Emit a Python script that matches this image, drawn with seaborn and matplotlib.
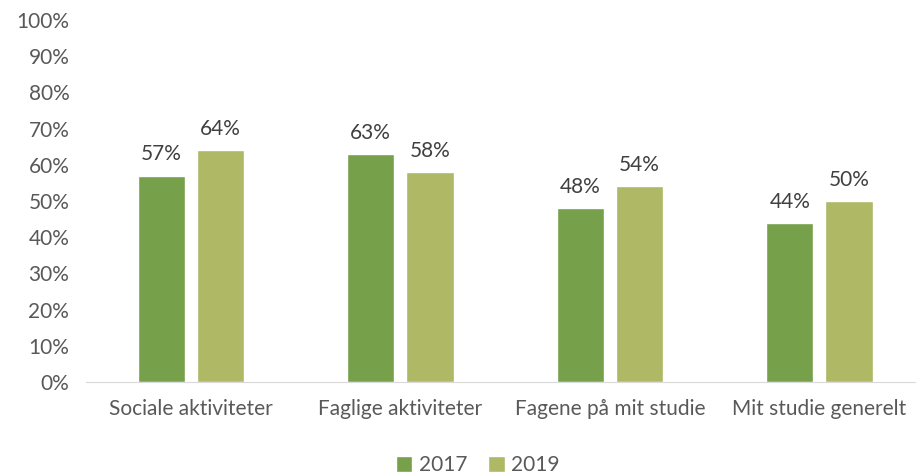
import pandas as pd
import matplotlib.pyplot as plt
import seaborn as sns
from matplotlib.ticker import PercentFormatter

categories = ['Sociale aktiviteter', 'Faglige aktiviteter', 'Fagene på mit studie', 'Mit studie generelt']
years = ['2017', '2019']
values_2017 = [57, 63, 48, 44]
values_2019 = [64, 58, 54, 50]
colors = ['#77A04A', '#AFB865']

df = pd.DataFrame({
    'kategori': categories * 2,
    'aar': [years[0]] * 4 + [years[1]] * 4,
    'andel': values_2017 + values_2019,
})

sns.set_style('white')
plt.rcParams['font.family'] = ['Lato', 'DejaVu Sans']
text_col = '#595959'

fig = plt.figure(figsize=(9.16, 4.75), dpi=100)
ax = fig.add_axes([0.0939, 0.196, 0.915, 0.762])
sns.barplot(data=df, x='kategori', y='andel', hue='aar', palette=colors,
            width=0.565, gap=0.2, saturation=1, ax=ax)

# dataetiketter
for cont in ax.containers:
    ax.bar_label(cont, labels=[f'{v:.0f}%' for v in cont.datavalues],
                 padding=8, fontsize=15, color='#404040')

ax.set_ylim(0, 100)
ax.set_xlim(-0.5, 3.5)
ax.set_yticks(range(0, 101, 10))
ax.yaxis.set_major_formatter(PercentFormatter(decimals=0))
ax.set_xlabel('')
ax.set_ylabel('')
ax.tick_params(axis='both', labelsize=15, colors=text_col, length=0)
ax.tick_params(axis='y', pad=12)
ax.tick_params(axis='x', pad=12)
for s in ['top', 'right', 'left']:
    ax.spines[s].set_visible(False)
ax.spines['bottom'].set_color('#D9D9D9')

ax.legend(loc='upper center', bbox_to_anchor=(0.467, -0.15), ncol=2, frameon=False,
          fontsize=15, handlelength=0.8, handleheight=0.8, handletextpad=0.3,
          columnspacing=1.0, labelcolor=text_col)

fig.savefig('out.png', dpi=100)
